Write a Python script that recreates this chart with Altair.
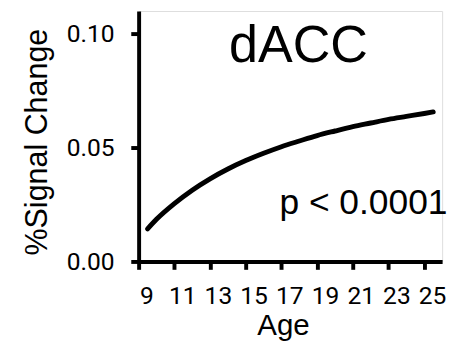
import altair as alt
import pandas as pd

# Curve (age in years, % signal change)
ages = [9.5, 10, 11, 12, 13, 14, 15, 16, 17, 18, 19, 20, 21, 22, 23, 24, 25, 25.5]
signal = [0.0143, 0.0185, 0.0254, 0.0313, 0.0363, 0.0406, 0.0443, 0.0475, 0.0504,
          0.0529, 0.0553, 0.0573, 0.0592, 0.0608, 0.0624, 0.0637, 0.0650, 0.0657]

x_ticks = [9, 11, 13, 15, 17, 19, 21, 23, 25]
y_ticks = [0.0, 0.05, 0.10]

region_label = "dACC"
p_label = "p < 0.0001"

df = pd.DataFrame({"age": ages, "signal": signal})

x_scale = alt.Scale(domain=[9, 26], nice=False, zero=False)
y_scale = alt.Scale(domain=[0, 0.11], nice=False)

x_axis = alt.Axis(
    values=x_ticks, tickCount=len(x_ticks), title="Age", grid=False,
    domainColor="black", domainWidth=4, domainCap="butt",
    tickColor="black", tickWidth=4, tickSize=8,
    labelFont="Roboto", labelFontSize=25, labelColor="black", labelPadding=15,
    labelOffset=8,
    labelOverlap=False, labelFlush=False,
    titleFont="Liberation Sans", titleFontSize=30, titleFontWeight="normal",
    titleColor="black", titleX=147, titleY=74, titleAlign="center",
    titleBaseline="alphabetic",
)
y_axis = alt.Axis(
    values=y_ticks, tickCount=len(y_ticks), format=".2f", title="%Signal Change",
    grid=False,
    domainColor="black", domainWidth=4, domainCap="butt",
    tickColor="black", tickWidth=4, tickSize=8,
    labelFont="Roboto", labelFontSize=25, labelColor="black", labelPadding=17,
    labelOverlap=False, labelFlush=False,
    titleFont="Liberation Sans", titleFontSize=31, titleFontWeight="normal",
    titleColor="black", titleAngle=270, titleX=-94, titleY=133,
    titleAlign="center", titleBaseline="alphabetic",
)

line = alt.Chart(df).mark_line(
    color="black", strokeWidth=5, strokeCap="round", interpolate="monotone"
).encode(
    x=alt.X("age:Q", scale=x_scale, axis=x_axis),
    y=alt.Y("signal:Q", scale=y_scale, axis=y_axis),
)

title_text = alt.Chart().mark_text(
    text=region_label, font="Liberation Sans", fontSize=53, color="black",
    align="center", baseline="alphabetic",
).encode(x=alt.datum(17.95, scale=x_scale), y=alt.datum(0.0876, scale=y_scale))

p_text = alt.Chart().mark_text(
    text=p_label, font="Liberation Sans", fontSize=36, color="black",
    align="right", baseline="alphabetic",
).encode(x=alt.datum(26.3, scale=x_scale), y=alt.datum(0.0207, scale=y_scale))

chart = alt.layer(line, title_text, p_text).properties(
    width=309, height=255,
    autosize=alt.AutoSizeParams(type="none"),
    padding={"left": 133, "top": 0, "right": 7, "bottom": 82},
).configure_view(stroke=None).configure(background="white")

chart.save("out.html", embed_options={"renderer": "svg", "actions": False})
